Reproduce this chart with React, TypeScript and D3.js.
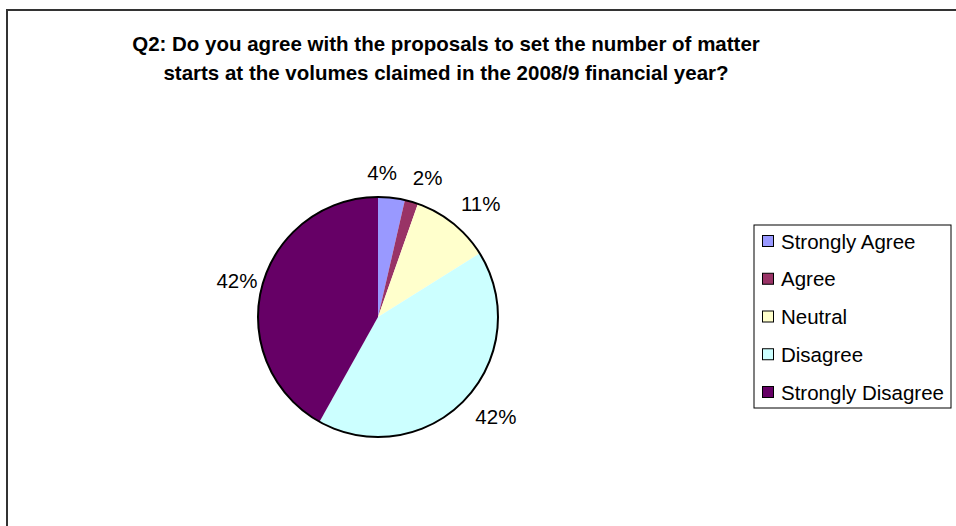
import React from "react";
import * as d3 from "d3";

const titleLines = [
  "Q2: Do you agree with the proposals to set the number of matter",
  "starts at the volumes claimed in the 2008/9 financial year?",
];
const categories = ["Strongly Agree", "Agree", "Neutral", "Disagree", "Strongly Disagree"];
const values = [3.6, 1.8, 10.7, 42.0, 41.9];
const colors = ["#9999FF", "#993366", "#FFFFCC", "#CCFFFF", "#660066"];

const W = 956;
const H = 526;
const cx = 378;
const cy = 317;
const R = 120;
const FONT = "'Liberation Sans', Arial, sans-serif";

export default function App() {
  const total = d3.sum(values);
  const pie = d3
    .pie<number>()
    .sort(null)
    .value((d) => d)
    .startAngle(0)
    .endAngle(2 * Math.PI);
  const arcs = pie(values);
  const arcGen = d3.arc<d3.PieArcDatum<number>>().innerRadius(0).outerRadius(R);

  const fs = 20.5;
  const labelDx = 7;
  const rx = R + 33;
  const ry = R + 25;
  const labels = arcs.map((a) => {
    const mid = (a.startAngle + a.endAngle) / 2;
    const text = Math.round((a.value / total) * 100) + "%";
    const w = text.length === 2 ? fs * 1.445 : fs * 2.0;
    return { text, x: labelDx + Math.sin(mid) * rx, y: -Math.cos(mid) * ry, w, h: fs * 0.75 };
  });
  // simple collision avoidance: push the earlier label away
  const pad = 16;
  for (let i = 0; i < labels.length - 1; i++) {
    const a = labels[i];
    const b = labels[i + 1];
    if (Math.abs(a.y - b.y) < (a.h + b.h) / 2 && b.x > a.x) {
      const ov = a.x + a.w / 2 + pad - (b.x - b.w / 2);
      if (ov > 0) a.x -= ov;
    }
  }

  const legendX = 754;
  const legendY = 225;
  const legendW = 197;
  const legendH = 183;
  const itemY = d3
    .scalePoint<string>()
    .domain(categories)
    .range([legendY + 16, legendY + legendH - 16]);

  return (
    <svg
      width={W}
      height={H}
      style={{ position: "absolute", left: 0, top: 0, background: "#fff" }}
      fontFamily={FONT}
    >
      <rect x={0} y={0} width={W} height={H} fill="#fff" />
      <rect x={7} y={10} width={W + 20} height={H + 20} fill="none" stroke="#333" strokeWidth={2} />
      {titleLines.map((t, i) => (
        <text
          key={i}
          x={446}
          y={51 + i * 29}
          textAnchor="middle"
          fontSize={20.5}
          fontWeight="bold"
          fill="#000"
        >
          {t}
        </text>
      ))}
      <g transform={`translate(${cx},${cy})`}>
        {arcs.map((a, i) => (
          <path key={i} d={arcGen(a) || ""} fill={colors[i]} stroke="none" />
        ))}
        <circle r={R} fill="none" stroke="#000" strokeWidth={2} />
        {labels.map((l, i) => (
          <text
            key={i}
            x={l.x}
            y={l.y}
            textAnchor="middle"
            dominantBaseline="central"
            fontSize={fs}
            fill="#000"
          >
            {l.text}
          </text>
        ))}
      </g>
      <rect x={legendX} y={legendY} width={legendW} height={legendH} fill="#fff" stroke="#000" strokeWidth={1} />
      {categories.map((c, i) => {
        const y = itemY(c) as number;
        return (
          <g key={c}>
            <rect x={legendX + 8.5} y={y - 5.5} width={11} height={11} fill={colors[i]} stroke="#000" strokeWidth={1} />
            <text x={legendX + 27} y={y} dominantBaseline="central" fontSize={fs} fill="#000">
              {c}
            </text>
          </g>
        );
      })}
    </svg>
  );
}
